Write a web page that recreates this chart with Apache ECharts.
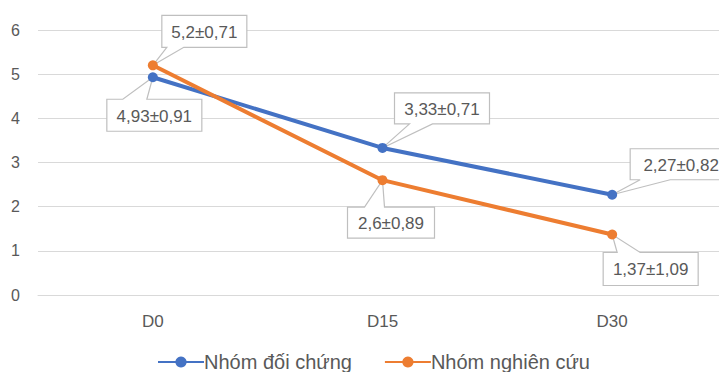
<!DOCTYPE html>
<html>
<head>
<meta charset="utf-8">
<script src="https://cdn.jsdelivr.net/npm/echarts@6/dist/echarts.min.js"></script>
<style>
  html, body { margin: 0; padding: 0; background: #ffffff; overflow: hidden; }
  /* the plot runs slightly past the right edge of the window */
  #chart { width: 727px; height: 372px; }
</style>
</head>
<body>
<div id="chart"></div>
<script>
// Time points and group means (± standard deviation)
const categories = ['D0', 'D15', 'D30'];
const seriesNames = ['Nhóm đối chứng', 'Nhóm nghiên cứu'];
const controlMean = [4.93, 3.33, 2.27];
const controlSd = [0.91, 0.71, 0.82];
const studyMean = [5.2, 2.6, 1.37];
const studySd = [0.71, 0.89, 1.09];
const yTicks = [0, 1, 2, 3, 4, 5, 6];

const colors = ['#4472C4', '#ED7D31'];
const textColor = '#595959';
const fontFamily = '"Liberation Sans", Arial, sans-serif';

// Callout box placement relative to each point (px), plus wedge base on the box edge
const calloutLayout = [
  [ // control group
    { dx: -46, dy: 22, w: 95, h: 32, edge: 'top', b1: 16, b2: 40 },
    { dx: 12, dy: -55, w: 95, h: 31, edge: 'bottom', b1: 15, b2: 38 },
    { dx: 18, dy: -46, w: 102, h: 31, edge: 'bottom', b1: 10, b2: 40 }
  ],
  [ // study group
    { dx: 9, dy: -50, w: 85, h: 32, edge: 'bottom', b1: 5, b2: 22 },
    { dx: -35, dy: 27, w: 87, h: 31, edge: 'top', b1: 17, b2: 37 },
    { dx: -9, dy: 18, w: 95, h: 33, edge: 'top', b1: 14, b2: 37 }
  ]
];

const fmt = v => String(v).replace('.', ',');

function calloutRenderer(groupIndex) {
  return function (params, api) {
    const idx = api.value(0);
    const mean = api.value(1);
    const sd = api.value(2);
    const pt = api.coord([idx, mean]);
    const L = calloutLayout[groupIndex][params.dataIndex];
    const x0 = pt[0] + L.dx, y0 = pt[1] + L.dy;
    const x1 = x0 + L.w, y1 = y0 + L.h;
    let pts;
    if (L.edge === 'bottom') {
      pts = [[x0, y0], [x1, y0], [x1, y1], [x0 + L.b2, y1], pt, [x0 + L.b1, y1], [x0, y1]];
    } else {
      pts = [[x0, y0], [x0 + L.b1, y0], pt, [x0 + L.b2, y0], [x1, y0], [x1, y1], [x0, y1]];
    }
    return {
      type: 'group',
      children: [
        {
          type: 'polygon',
          shape: { points: pts },
          style: { fill: '#ffffff', stroke: '#bfbfbf', lineWidth: 1.2 }
        },
        {
          type: 'text',
          style: {
            text: fmt(mean) + '±' + fmt(sd),
            x: (x0 + x1) / 2,
            y: (y0 + y1) / 2 + 1,
            align: 'center',
            verticalAlign: 'middle',
            fill: textColor,
            fontSize: 17,
            fontFamily: fontFamily
          }
        }
      ]
    };
  };
}

const chart = echarts.init(document.getElementById('chart'), null, { renderer: 'svg' });

const lineSeries = [controlMean, studyMean].map((vals, i) => ({
  name: seriesNames[i],
  type: 'line',
  data: vals,
  z: 4,
  symbol: 'circle',
  symbolSize: 10,
  color: colors[i],
  lineStyle: { width: 4, color: colors[i] },
  itemStyle: { color: colors[i] },
  emphasis: { disabled: true }
}));

const calloutSeries = [[controlMean, controlSd], [studyMean, studySd]].map((pair, i) => ({
  name: seriesNames[i] + ' (nhãn)',
  type: 'custom',
  z: 3,
  silent: true,
  renderItem: calloutRenderer(i),
  data: pair[0].map((m, k) => [k, m, pair[1][k]])
}));

chart.setOption({
  animation: false,
  backgroundColor: '#ffffff',
  grid: { left: 38, top: 30, right: 0, height: 265 },
  xAxis: {
    type: 'category',
    data: categories,
    boundaryGap: true,
    axisLine: { show: true, lineStyle: { color: '#d9d9d9', width: 1 } },
    axisTick: { show: false },
    axisLabel: { color: textColor, fontSize: 17, fontFamily: fontFamily, margin: 18 }
  },
  yAxis: {
    type: 'value',
    min: yTicks[0],
    max: yTicks[yTicks.length - 1],
    interval: 1,
    axisLine: { show: false },
    axisTick: { show: false },
    axisLabel: { color: textColor, fontSize: 16, fontFamily: fontFamily, margin: 18 },
    splitLine: { lineStyle: { color: '#d9d9d9', width: 1 } }
  },
  legend: {
    data: seriesNames,
    top: 352,
    left: 157,
    padding: 0,
    itemWidth: 46,
    itemHeight: 14,
    itemGap: 32,
    textStyle: { color: textColor, fontSize: 20, fontFamily: fontFamily, padding: [0, 0, 0, -5] }
  },
  series: lineSeries.concat(calloutSeries)
});
</script>
</body>
</html>
